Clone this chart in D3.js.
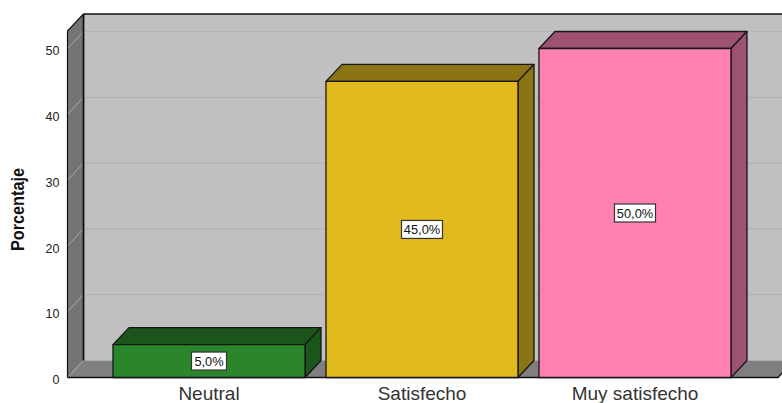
<!DOCTYPE html>
<html><head><meta charset="utf-8">
<script src="https://cdn.jsdelivr.net/npm/d3@7/dist/d3.min.js"></script>
<style>html,body{margin:0;padding:0;background:#fff}svg{display:block}text{font-family:"Liberation Sans",Arial,sans-serif}</style>
</head><body><svg id="c" width="782" height="403"></svg>
<script>
const categories = ["Neutral", "Satisfecho", "Muy satisfecho"];
const values = [5, 45, 50];
const valueLabels = ["5,0%", "45,0%", "50,0%"];
const faceColors = ["#2a852b", "#e1bb1e", "#ff80b1"];
const sideColors = ["#1b551b", "#8a7413", "#9e5271"];
const yTicks = [0, 10, 20, 30, 40, 50];
const yTitle = "Porcentaje";

const svg = d3.select("#c");
const dx = 16, dy = -17;
const x = d3.scaleBand().domain(categories).range([102.5, 741.5]).paddingInner(0.0986).paddingOuter(0.0493);
const y = d3.scaleLinear().domain([0, 50]).range([377.5, 48.5]);
const left = 67.5, right = 778, wallTop = 31;
const pts = a => a.map(p => p.join(",")).join(" ");

const floorY = y(0);
svg.append("rect").attr("x", left + dx).attr("y", wallTop + dy).attr("width", 782 - left - dx).attr("height", floorY - wallTop).attr("fill", "#c0c0c0");
svg.append("polygon").attr("points", pts([[left, floorY], [left + dx, floorY + dy], [right + 16, floorY + dy], [right, floorY]])).attr("fill", "#7f7f7f");
svg.append("polygon").attr("points", pts([[left, wallTop], [left + dx, wallTop + dy], [left + dx, floorY + dy], [left, floorY]])).attr("fill", "#747474");
yTicks.forEach(t => {
  svg.append("line").attr("x1", left + dx).attr("x2", 782).attr("y1", y(t) + dy).attr("y2", y(t) + dy).attr("stroke", "#b2b2b2").attr("stroke-width", 1.2).attr("visibility", t === 0 ? "hidden" : "visible");
  svg.append("line").attr("x1", left).attr("x2", left + dx).attr("y1", y(t)).attr("y2", y(t) + dy).attr("stroke", "#a9a9a9").attr("stroke-width", 1);
});
const frame = "#111";
svg.append("line").attr("x1", left + dx).attr("x2", 782).attr("y1", wallTop + dy).attr("y2", wallTop + dy).attr("stroke", frame).attr("stroke-width", 1.4);
svg.append("line").attr("x1", left + dx).attr("x2", left + dx).attr("y1", wallTop + dy).attr("y2", floorY + dy).attr("stroke", frame).attr("stroke-width", 1.8);
svg.append("polyline").attr("points", pts([[left, floorY], [left, wallTop], [left + dx, wallTop + dy]])).attr("fill", "none").attr("stroke", frame).attr("stroke-width", 1.2);
svg.append("polyline").attr("points", pts([[left, floorY], [right, floorY], [right + 5, floorY - 5.3]])).attr("fill", "none").attr("stroke", frame).attr("stroke-width", 1.4);

const g = svg.selectAll("g.bar").data(categories).join("g").attr("class", "bar");
g.each(function (c, i) {
  const s = d3.select(this);
  const x0 = x(c), x1 = x0 + x.bandwidth(), yt = y(values[i]), yb = y(0);
  const poly = (p, fill) => s.append("polygon").attr("points", pts(p)).attr("fill", fill).attr("stroke", "#161616").attr("stroke-width", 1.3).attr("stroke-linejoin", "round");
  poly([[x0, yt], [x0 + dx, yt + dy], [x1 + dx, yt + dy], [x1, yt]], sideColors[i]);
  poly([[x1, yt], [x1 + dx, yt + dy], [x1 + dx, yb + dy], [x1, yb]], sideColors[i]);
  poly([[x0, yt], [x1, yt], [x1, yb], [x0, yb]], faceColors[i]);
  const cx = (x0 + x1) / 2, cy = (yt + yb) / 2;
  const w = valueLabels[i].length > 4 ? 41 : 35;
  s.append("rect").attr("x", cx - w / 2).attr("y", cy - 9).attr("width", w).attr("height", 18).attr("fill", "#fff").attr("stroke", "#333").attr("stroke-width", 1.2);
  s.append("text").attr("x", cx).attr("y", cy + 4.6).attr("text-anchor", "middle").attr("font-size", 12.8).attr("fill", "#111").text(valueLabels[i]);
});

const yAxis = svg.append("g").attr("transform", `translate(${left},0)`).call(d3.axisLeft(y).tickValues(yTicks).tickSize(0).tickPadding(8));
yAxis.select(".domain").remove();
yAxis.selectAll("text").attr("font-size", 12.5).attr("fill", "#222").attr("font-family", '"Liberation Sans",Arial,sans-serif').attr("dy", "0.5em");
const xAxis = svg.append("g").attr("transform", `translate(0,${floorY})`).call(d3.axisBottom(x).tickSize(0).tickPadding(9.5));
xAxis.select(".domain").remove();
xAxis.selectAll("text").attr("font-size", 19).attr("fill", "#333").attr("font-family", '"Liberation Sans",Arial,sans-serif');
svg.append("text").attr("transform", "translate(23.5,209.5) rotate(-90) scale(0.93,1)").attr("text-anchor", "middle").attr("font-size", 17.5).attr("font-weight", "bold").attr("fill", "#111").text(yTitle);
</script></body></html>
